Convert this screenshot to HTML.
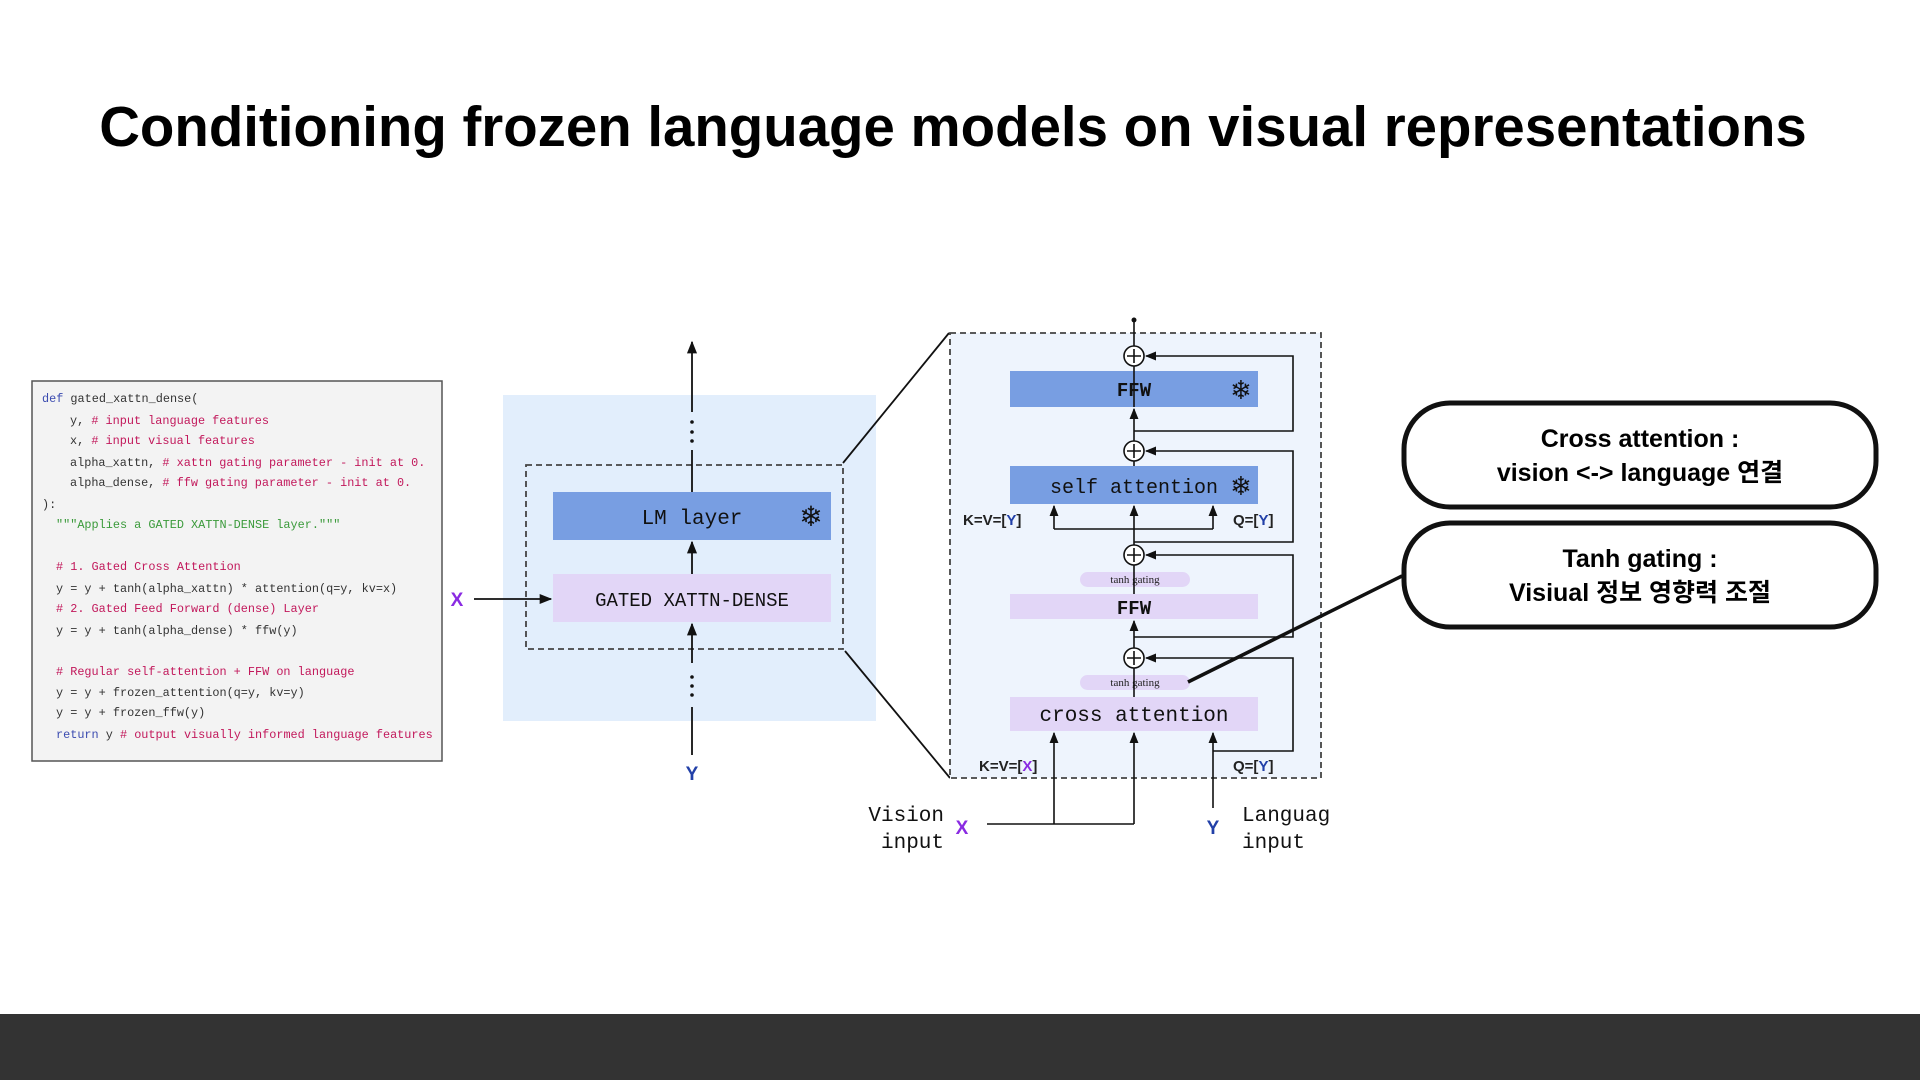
<!DOCTYPE html>
<html><head><meta charset="utf-8"><style>
html,body{margin:0;padding:0;width:1920px;height:1080px;background:#fff;overflow:hidden}
svg{display:block}
.mono{font-family:"Liberation Mono",monospace}
.code{font-family:"Liberation Mono",monospace;font-size:11.85px}
</style></head><body>
<svg width="1920" height="1080" viewBox="0 0 1920 1080" xmlns="http://www.w3.org/2000/svg">
<defs>
<marker id="ah" viewBox="0 0 10 10" refX="9" refY="5" markerWidth="7" markerHeight="7" orient="auto-start-reverse"><path d="M0,1 L10,5 L0,9 z" fill="#111"/></marker>
</defs>
<text x="953" y="146" text-anchor="middle" font-family="Liberation Sans, sans-serif" font-weight="bold" font-size="56.4" fill="#000">Conditioning frozen language models on visual representations</text>
<rect x="0" y="1014" width="1920" height="66" fill="#333"/>

<!-- code box -->
<rect x="32" y="381" width="410" height="380" fill="#f3f3f3" stroke="#555" stroke-width="1.5"/>
<g class="code">
<text x="42" y="402"><tspan fill="#3b4bb0">def</tspan><tspan fill="#333"> gated_xattn_dense(</tspan></text>
<text x="70" y="424" fill="#333">y,  <tspan fill="#c2185b"># input language features</tspan></text>
<text x="70" y="444" fill="#333">x,  <tspan fill="#c2185b"># input visual features</tspan></text>
<text x="70" y="466" fill="#333">alpha_xattn, <tspan fill="#c2185b"># xattn gating parameter - init at 0.</tspan></text>
<text x="70" y="486" fill="#333">alpha_dense, <tspan fill="#c2185b"># ffw gating parameter - init at 0.</tspan></text>
<text x="42" y="508" fill="#333">):</text>
<text x="56" y="528" fill="#3a9a3a">"""Applies a GATED XATTN-DENSE layer."""</text>
<text x="56" y="570" fill="#c2185b"># 1. Gated Cross Attention</text>
<text x="56" y="592" fill="#333">y = y + tanh(alpha_xattn) * attention(q=y, kv=x)</text>
<text x="56" y="612" fill="#c2185b"># 2. Gated Feed Forward (dense) Layer</text>
<text x="56" y="634" fill="#333">y = y + tanh(alpha_dense) * ffw(y)</text>
<text x="56" y="675" fill="#c2185b"># Regular self-attention + FFW on language</text>
<text x="56" y="696" fill="#333">y = y + frozen_attention(q=y, kv=y)</text>
<text x="56" y="716" fill="#333">y = y + frozen_ffw(y)</text>
<text x="56" y="738"><tspan fill="#3b4bb0">return</tspan><tspan fill="#333"> y  </tspan><tspan fill="#c2185b"># output visually informed language features</tspan></text>
</g>

<!-- left diagram -->
<rect x="503" y="395" width="373" height="326" fill="#e2eefc"/>
<rect x="526" y="465" width="317" height="184" fill="none" stroke="#444" stroke-width="1.8" stroke-dasharray="6,4"/>
<rect x="553" y="492" width="278" height="48" fill="#789ee2"/>
<text x="692" y="524" text-anchor="middle" class="mono" font-size="21" fill="#111">LM layer</text>
<text x="811" y="526" text-anchor="middle" font-family="DejaVu Sans, sans-serif" font-size="28" fill="#111">❄</text>
<rect x="553" y="574" width="278" height="48" fill="#e2d6f7"/>
<text x="692" y="606" text-anchor="middle" class="mono" font-size="19" fill="#111">GATED XATTN-DENSE</text>
<g stroke="#111" stroke-width="1.8" fill="none">
<line x1="692" y1="492" x2="692" y2="450"/>
<line x1="692" y1="412" x2="692" y2="342" marker-end="url(#ah)"/>
<line x1="692" y1="574" x2="692" y2="542" marker-end="url(#ah)"/>
<line x1="692" y1="663" x2="692" y2="624" marker-end="url(#ah)"/>
<line x1="692" y1="755" x2="692" y2="707"/>
<line x1="474" y1="599" x2="551" y2="599" marker-end="url(#ah)"/>
<line x1="843" y1="463" x2="949" y2="333"/>
<line x1="845" y1="651" x2="950" y2="778"/>
</g>
<g fill="#111"><circle cx="692" cy="422" r="1.8"/><circle cx="692" cy="432" r="1.8"/><circle cx="692" cy="441" r="1.8"/>
<circle cx="692" cy="677" r="1.8"/><circle cx="692" cy="686" r="1.8"/><circle cx="692" cy="695" r="1.8"/></g>
<text x="457" y="606" text-anchor="middle" font-family="Liberation Sans, sans-serif" font-weight="bold" font-size="19" fill="#8a2be2">X</text>
<text x="692" y="780" text-anchor="middle" font-family="Liberation Sans, sans-serif" font-weight="bold" font-size="19" fill="#2240a8">Y</text>

<!-- right zoom box -->
<rect x="950" y="333" width="371" height="445" fill="#eef4fd" stroke="#444" stroke-width="1.8" stroke-dasharray="6,4"/>
<rect x="1010" y="371" width="248" height="36" fill="#789ee2"/>
<text x="1134" y="396" text-anchor="middle" class="mono" font-size="19" font-weight="bold" fill="#111">FFW</text>
<text x="1241" y="399" text-anchor="middle" font-family="DejaVu Sans, sans-serif" font-size="26" fill="#111">❄</text>
<rect x="1010" y="466" width="248" height="38" fill="#789ee2"/>
<text x="1134" y="493" text-anchor="middle" class="mono" font-size="20" fill="#111">self attention</text>
<text x="1241" y="495" text-anchor="middle" font-family="DejaVu Sans, sans-serif" font-size="26" fill="#111">❄</text>
<rect x="1080" y="572" width="110" height="15" rx="7.5" fill="#e2d6f7"/>
<text x="1135" y="583" text-anchor="middle" font-family="Liberation Serif, serif" font-size="11" fill="#222">tanh gating</text>
<rect x="1010" y="594" width="248" height="25" fill="#e2d6f7"/>
<text x="1134" y="614" text-anchor="middle" class="mono" font-size="19" font-weight="bold" fill="#111">FFW</text>
<rect x="1080" y="675" width="110" height="15" rx="7.5" fill="#e2d6f7"/>
<text x="1135" y="686" text-anchor="middle" font-family="Liberation Serif, serif" font-size="11" fill="#222">tanh gating</text>
<rect x="1010" y="697" width="248" height="34" fill="#e2d6f7"/>
<text x="1134" y="721" text-anchor="middle" class="mono" font-size="21" fill="#111">cross attention</text>

<g stroke="#111" stroke-width="1.6" fill="none">
<line x1="1134" y1="346" x2="1134" y2="320"/>
<line x1="1134" y1="407" x2="1134" y2="366"/>
<line x1="1134" y1="441" x2="1134" y2="409" marker-end="url(#ah)"/>
<line x1="1134" y1="466" x2="1134" y2="461"/>
<line x1="1134" y1="545" x2="1134" y2="506" marker-end="url(#ah)"/>
<line x1="1134" y1="594" x2="1134" y2="565"/>
<line x1="1134" y1="648" x2="1134" y2="621" marker-end="url(#ah)"/>
<line x1="1134" y1="697" x2="1134" y2="668"/>
<path d="M1134,431 H1293 V356 H1146" marker-end="url(#ah)"/>
<path d="M1134,542 H1293 V451 H1146" marker-end="url(#ah)"/>
<path d="M1134,637 H1293 V555 H1146" marker-end="url(#ah)"/>
<path d="M1213,751 H1293 V658 H1146" marker-end="url(#ah)"/>
<path d="M1054,529 H1213" />
<line x1="1054" y1="529" x2="1054" y2="506" marker-end="url(#ah)"/>
<line x1="1213" y1="529" x2="1213" y2="506" marker-end="url(#ah)"/>
<path d="M987,824 H1134"/>
<line x1="1054" y1="824" x2="1054" y2="733" marker-end="url(#ah)"/>
<line x1="1134" y1="824" x2="1134" y2="733" marker-end="url(#ah)"/>
<line x1="1213" y1="808" x2="1213" y2="733" marker-end="url(#ah)"/>
</g>
<circle cx="1134" cy="320" r="2.5" fill="#111"/>
<g fill="#fff" stroke="#111" stroke-width="1.6">
<circle cx="1134" cy="356" r="10"/><circle cx="1134" cy="451" r="10"/><circle cx="1134" cy="555" r="10"/><circle cx="1134" cy="658" r="10"/>
</g>
<g stroke="#111" stroke-width="1.6">
<path d="M1127,356 h14 M1134,349 v14"/><path d="M1127,451 h14 M1134,444 v14"/><path d="M1127,555 h14 M1134,548 v14"/><path d="M1127,658 h14 M1134,651 v14"/>
</g>
<g font-family="Liberation Sans, sans-serif" font-weight="bold" font-size="15" fill="#222">
<text x="963" y="525">K=V=[<tspan fill="#2240a8">Y</tspan>]</text>
<text x="1233" y="525">Q=[<tspan fill="#2240a8">Y</tspan>]</text>
<text x="979" y="771">K=V=[<tspan fill="#8a2be2">X</tspan>]</text>
<text x="1233" y="771">Q=[<tspan fill="#2240a8">Y</tspan>]</text>
</g>
<g class="mono" font-size="21" fill="#111">
<text x="944" y="821" text-anchor="end">Vision</text>
<text x="944" y="848" text-anchor="end">input</text>
<text x="1242" y="821">Languag</text>
<text x="1242" y="848">input</text>
</g>
<text x="962" y="834" text-anchor="middle" font-family="Liberation Sans, sans-serif" font-weight="bold" font-size="19" fill="#8a2be2">X</text>
<text x="1213" y="834" text-anchor="middle" font-family="Liberation Sans, sans-serif" font-weight="bold" font-size="19" fill="#2240a8">Y</text>

<!-- callouts -->
<line x1="1402" y1="576" x2="1188" y2="682" stroke="#111" stroke-width="3.5"/>
<rect x="1404" y="403" width="472" height="104" rx="46" fill="#fff" stroke="#111" stroke-width="5"/>
<rect x="1404" y="523" width="472" height="104" rx="46" fill="#fff" stroke="#111" stroke-width="5"/>
<g font-family="Liberation Sans, 'Noto Sans CJK KR', sans-serif" font-size="25" font-weight="bold" fill="#000" text-anchor="middle">
<text x="1640" y="447">Cross attention :</text>
<text x="1640" y="481">vision &lt;-&gt; language 연결</text>
<text x="1640" y="567">Tanh gating :</text>
<text x="1640" y="601">Visiual 정보 영향력 조절</text>
</g>
</svg>
</body></html>
